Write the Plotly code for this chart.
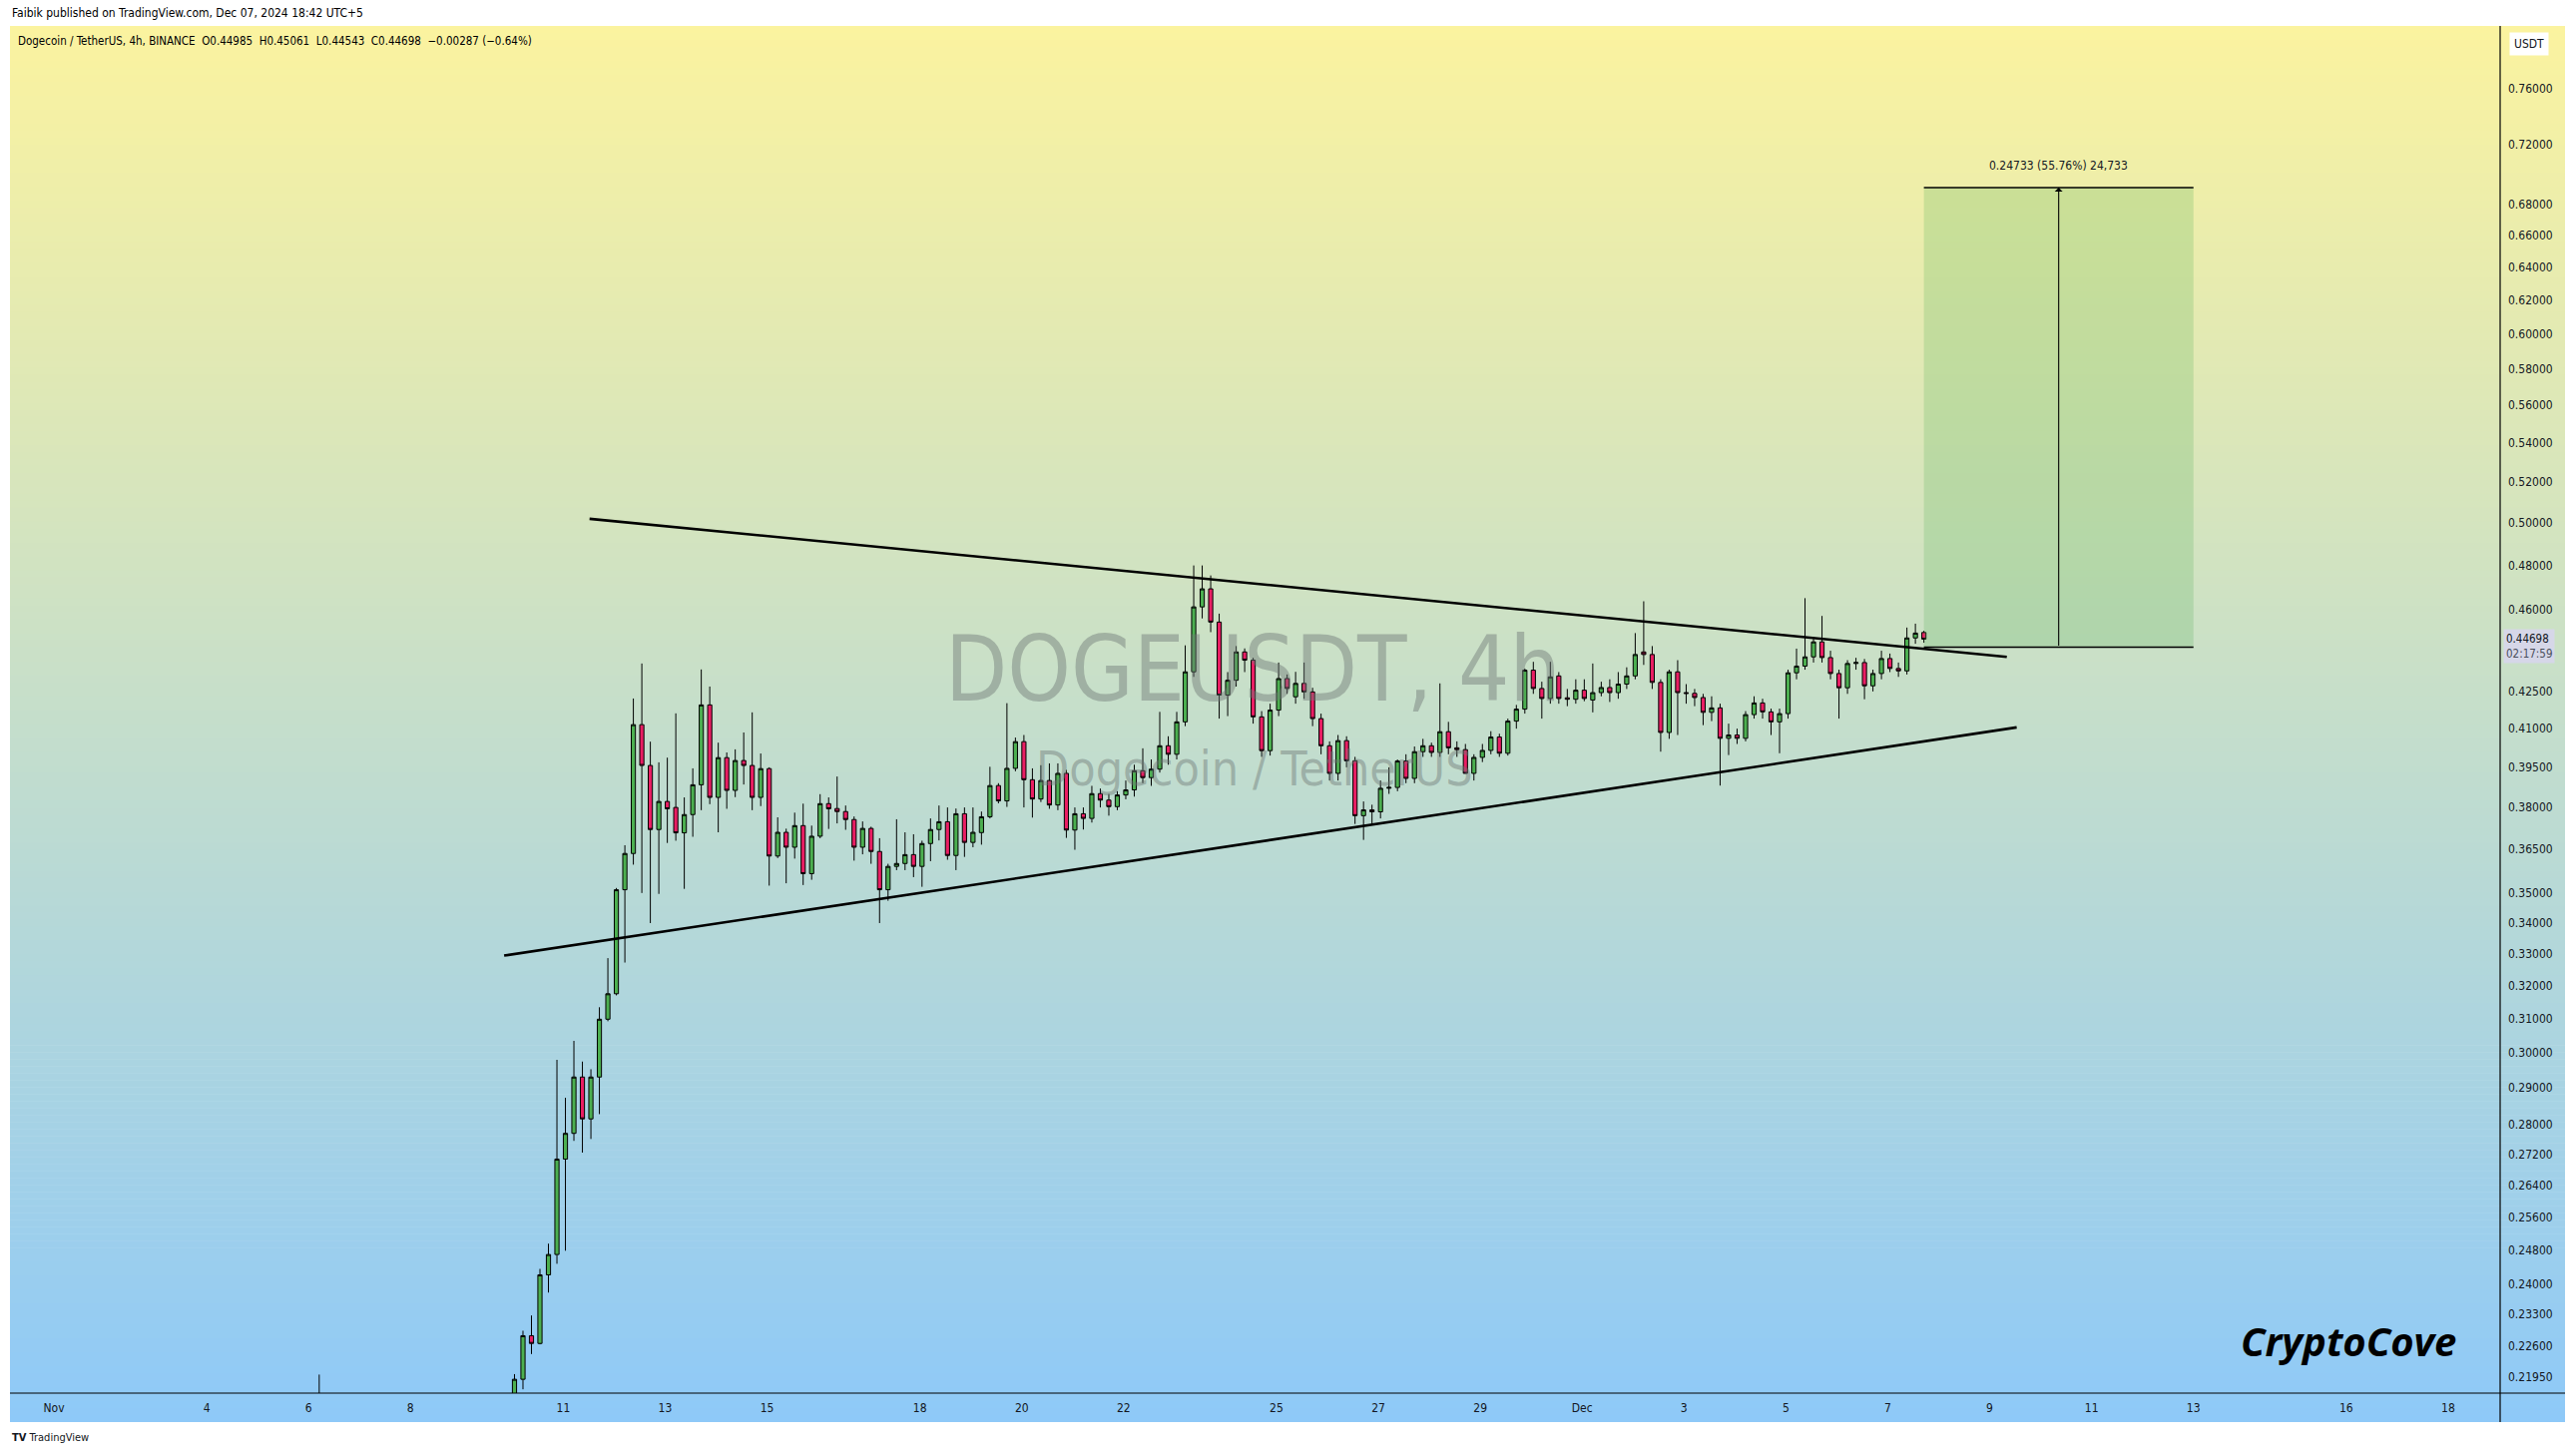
import numpy as np
import pandas as pd
import plotly.graph_objects as go

# ---------------- data ----------------
first_bar = "2024-11-10 01:00"   # 4h bars, exchange time UTC+5
opens = [0.2120,0.2189,0.2283,0.2266,0.2421,0.2469,0.2707,0.2775,0.2930,0.2814,
         0.2930,0.3098,0.3175,0.3510,0.3635,0.4116,0.3957,0.3720,0.3822,0.3800,
         0.3708,0.3774,0.3884,0.4195,0.3837,0.3987,0.3863,0.3976,0.3957,0.3837,
         0.3945,0.3626,0.3710,0.3657,0.3734,0.3565,0.3696,0.3814,0.3796,0.3785,
         0.3756,0.3657,0.3724,0.3642,0.3510,0.3590,0.3600,0.3631,0.3590,0.3670,
         0.3720,0.3748,0.3628,0.3777,0.3674,
         0.3709,0.3766,0.3881,0.3824,0.3946,0.4049,0.3903,0.3831,0.3900,0.3809,
         0.3927,0.3718,0.3777,0.3760,0.3851,0.3827,0.3803,0.3846,0.3865,0.3937,
         0.3911,0.3943,0.4033,0.4000,0.4127,0.4331,0.4611,0.4692,0.4544,0.4235,
         0.4296,0.4415,0.4380,0.4147,0.4014,0.4174,0.4303,0.4228,0.4283,0.4248,
         0.4140,0.4033,0.3927,0.4053,0.3975,0.3770,0.3791,0.3784,0.3871,0.3874,
         0.3974,0.3908,0.4010,0.4033,0.4007,0.4088,0.4025,0.4018,0.3927,0.3988,
         0.4015,0.4067,0.4004,0.4130,0.4178,0.4338,0.4262,0.4221,0.4314,0.4224,
         0.4218,0.4255,0.4215,0.4245,0.4266,0.4245,0.4280,0.4314,0.4415,0.4404,
         0.4287,0.4085,0.4331,0.4245,0.4242,0.4225,0.4165,0.4183,0.4062,0.4075,
         0.4062,0.4156,0.4203,0.4167,0.4127,0.4160,0.4327,0.4355,0.4394,0.4458,
         0.4391,0.4324,0.4265,0.4366,0.4370,0.4273,0.4324,0.4387,0.4345,0.4335,
         0.4475,0.44985]
highs = [0.2200,0.2294,0.2328,0.2435,0.2495,0.2979,0.2872,0.3034,0.2974,0.2952,
         0.3134,0.3286,0.3516,0.3664,0.4221,0.4366,0.4049,0.3969,0.3987,0.4161,
         0.3837,0.3946,0.4341,0.4270,0.4045,0.4007,0.4019,0.4085,0.4165,0.4003,
         0.3950,0.3764,0.3723,0.3781,0.3814,0.3734,0.3849,0.3837,0.3915,0.3807,
         0.3767,0.3749,0.3730,0.3689,0.3599,0.3757,0.3710,0.3703,0.3680,0.3760,
         0.3807,0.3800,0.3796,0.3800,0.3800,
         0.3785,0.3952,0.3890,0.4202,0.4065,0.4075,0.3946,0.3958,0.3965,0.3965,
         0.3940,0.3800,0.3800,0.3880,0.3870,0.3850,0.3860,0.3900,0.3960,0.4023,
         0.3980,0.4167,0.4070,0.4167,0.4443,0.4799,0.4799,0.4753,0.4581,0.4330,
         0.4440,0.4430,0.4390,0.4170,0.4200,0.4370,0.4320,0.4331,0.4370,0.4265,
         0.4160,0.4050,0.4075,0.4070,0.3990,0.3822,0.3810,0.3900,0.3950,0.3980,
         0.4000,0.4030,0.4060,0.4045,0.4283,0.4127,0.4050,0.4040,0.4000,0.4040,
         0.4090,0.4080,0.4140,0.4195,0.4345,0.4373,0.4290,0.4373,0.4330,0.4260,
         0.4300,0.4300,0.4366,0.4290,0.4300,0.4330,0.4350,0.4496,0.4636,0.4440,
         0.4300,0.4340,0.4380,0.4280,0.4260,0.4240,0.4230,0.4200,0.4120,0.4100,
         0.4170,0.4230,0.4220,0.4180,0.4180,0.4340,0.4429,0.4650,0.4480,0.4571,
         0.4420,0.4340,0.4380,0.4390,0.4385,0.4340,0.4420,0.4408,0.4370,0.4520,
         0.4537,0.45061]
lows = [0.2100,0.2168,0.2243,0.2264,0.2380,0.2447,0.2478,0.2755,0.2724,0.2760,
        0.2827,0.3092,0.3170,0.3272,0.3596,0.3499,0.3399,0.3496,0.3672,0.3680,
        0.3513,0.3694,0.3790,0.3812,0.3710,0.3795,0.3838,0.3885,0.3790,0.3805,
        0.3524,0.3619,0.3532,0.3617,0.3526,0.3544,0.3689,0.3722,0.3742,0.3719,
        0.3610,0.3632,0.3599,0.3399,0.3473,0.3577,0.3577,0.3553,0.3520,0.3608,
        0.3681,0.3613,0.3577,0.3623,0.3657,
        0.3666,0.3760,0.3815,0.3802,0.3935,0.3800,0.3763,0.3820,0.3795,0.3790,
        0.3690,0.3648,0.3720,0.3745,0.3800,0.3770,0.3790,0.3830,0.3840,0.3890,
        0.3880,0.3930,0.3960,0.3980,0.4110,0.4310,0.4560,0.4500,0.4140,0.4150,
        0.4270,0.4330,0.4120,0.3990,0.3995,0.4150,0.4240,0.4200,0.4220,0.4110,
        0.4000,0.3900,0.3900,0.3950,0.3740,0.3683,0.3740,0.3760,0.3850,0.3860,
        0.3890,0.3890,0.3990,0.3990,0.3990,0.4000,0.3990,0.3930,0.3900,0.3970,
        0.4000,0.3990,0.3995,0.4100,0.4160,0.4240,0.4140,0.4200,0.4200,0.4190,
        0.4200,0.4210,0.4165,0.4230,0.4207,0.4220,0.4260,0.4300,0.4360,0.4260,
        0.4010,0.4060,0.4075,0.4200,0.4190,0.4114,0.4130,0.3881,0.3997,0.4040,
        0.4050,0.4140,0.4140,0.4075,0.4004,0.4140,0.4300,0.4340,0.4370,0.4370,
        0.4300,0.4140,0.4240,0.4340,0.4218,0.4250,0.4300,0.4330,0.4310,0.4320,
        0.4450,0.44543]
closes = [0.2189,0.2283,0.2266,0.2421,0.2469,0.2707,0.2775,0.2930,0.2814,0.2930,
          0.3098,0.3175,0.3510,0.3635,0.4116,0.3957,0.3720,0.3822,0.3795,0.3708,
          0.3774,0.3884,0.4195,0.3837,0.3987,0.3863,0.3976,0.3957,0.3837,0.3945,
          0.3626,0.3710,0.3657,0.3734,0.3565,0.3696,0.3814,0.3795,0.3785,0.3756,
          0.3657,0.3724,0.3642,0.3510,0.3590,0.3600,0.3631,0.3590,0.3670,0.3720,
          0.3748,0.3628,0.3777,0.3674,0.3710,
          0.3766,0.3881,0.3824,0.3946,0.4049,0.3903,0.3831,0.3900,0.3809,0.3927,
          0.3718,0.3777,0.3760,0.3851,0.3827,0.3803,0.3846,0.3865,0.3937,0.3911,
          0.3943,0.4033,0.4000,0.4127,0.4331,0.4611,0.4692,0.4544,0.4235,0.4296,
          0.4415,0.4380,0.4147,0.4014,0.4174,0.4303,0.4262,0.4283,0.4248,0.4140,
          0.4033,0.3927,0.4053,0.3975,0.3770,0.3791,0.3784,0.3871,0.3874,0.3974,
          0.3908,0.4010,0.4033,0.4007,0.4088,0.4025,0.4018,0.3927,0.3988,0.4015,
          0.4067,0.4004,0.4130,0.4178,0.4338,0.4262,0.4221,0.4310,0.4221,0.4218,
          0.4255,0.4221,0.4245,0.4266,0.4245,0.4280,0.4314,0.4404,0.4404,0.4287,
          0.4085,0.4331,0.4245,0.4242,0.4225,0.4165,0.4183,0.4062,0.4075,0.4062,
          0.4156,0.4203,0.4167,0.4127,0.4160,0.4327,0.4355,0.4394,0.4458,0.4391,
          0.4324,0.4265,0.4366,0.4370,0.4273,0.4324,0.4387,0.4345,0.4335,0.4475,
          0.4496,0.44698]

# an earlier bar whose upper wick peeks above the bottom of the pane
early_time = ["2024-11-06 05:00"]
early_open, early_high, early_low, early_close = [0.1905], [0.2199], [0.1850], [0.2000]

# trend lines (time, price)
upper_line_t = ["2024-11-11 12:22", "2024-12-09 08:04"]
upper_line_p = [0.5020, 0.4394]
lower_line_t = ["2024-11-09 20:07", "2024-12-09 12:43"]
lower_line_p = [0.3294, 0.4105]

# long-position projection box
box_t = ["2024-12-07 17:00", "2024-12-13 00:00"]
box_bottom, box_top = 0.44356, 0.69089
box_label = "0.24733 (55.76%) 24,733"

ytick_vals = [0.76, 0.72, 0.68, 0.66, 0.64, 0.62, 0.60, 0.58, 0.56, 0.54, 0.52, 0.50,
              0.48, 0.46, 0.425, 0.41, 0.395, 0.38, 0.365, 0.35, 0.34, 0.33, 0.32,
              0.31, 0.30, 0.29, 0.28, 0.272, 0.264, 0.256, 0.248, 0.24, 0.233, 0.226, 0.2195]
xtick_dates = ["2024-11-01", "2024-11-04", "2024-11-06", "2024-11-08", "2024-11-11",
               "2024-11-13", "2024-11-15", "2024-11-18", "2024-11-20", "2024-11-22",
               "2024-11-25", "2024-11-27", "2024-11-29", "2024-12-01", "2024-12-03",
               "2024-12-05", "2024-12-07", "2024-12-09", "2024-12-11", "2024-12-13",
               "2024-12-16", "2024-12-18"]
xtick_text = ["Nov", "4", "6", "8", "11", "13", "15", "18", "20", "22", "25", "27", "29",
              "Dec", "3", "5", "7", "9", "11", "13", "16", "18"]

last_price_text = "0.44698"
countdown_text = "02:17:59"
header_text = "Faibik published on TradingView.com, Dec 07, 2024 18:42 UTC+5"
legend_text = ("Dogecoin / TetherUS, 4h, BINANCE&nbsp;&nbsp;O0.44985&nbsp;&nbsp;H0.45061&nbsp;&nbsp;"
               "L0.44543&nbsp;&nbsp;C0.44698&nbsp;&nbsp;−0.00287 (−0.64%)")

# ---------------- layout geometry ----------------
W, H = 2580, 1459
L, R, T, B = 10, 75, 26, 63
PW, PH = W - L - R, H - T - B
def pxx(px):
    return (px - L) / PW
def pxy(py):
    return (H - B - py) / PH

FONT = "Liberation Sans Narrow, DejaVu Sans Condensed, Liberation Sans, Arial, sans-serif"
TXT = "#131722"

times = list(pd.to_datetime(early_time)) + list(pd.date_range(first_bar, periods=len(opens), freq="4h"))

fig = go.Figure()

# background gradient (TradingView pane gradient)
top_rgb = np.array([251, 243, 159])
bot_rgb = np.array([142, 201, 248])
g_top, g_bot, g_left, g_right = 26, 1425, 10, 2570
n_bands = 200
shapes = []
for i in range(n_bands):
    y0 = g_top + (g_bot - g_top) * i / n_bands
    y1 = g_top + (g_bot - g_top) * (i + 1) / n_bands + 0.6
    f = (i + 0.5) / n_bands
    c = (1 - f) * top_rgb + f * bot_rgb
    shapes.append(dict(type="rect", xref="paper", yref="paper",
                       x0=pxx(g_left), x1=pxx(g_right), y0=pxy(min(y1, g_bot)), y1=pxy(y0),
                       fillcolor="rgb(%d,%d,%d)" % tuple(c.round()), line=dict(width=0),
                       layer="below"))
# axis border lines
shapes.append(dict(type="line", xref="paper", yref="paper", x0=pxx(g_left), x1=pxx(g_right),
                   y0=0, y1=0, line=dict(color="#000000", width=1.2), layer="above"))
shapes.append(dict(type="line", xref="paper", yref="paper", x0=1, x1=1,
                   y0=pxy(g_bot), y1=pxy(g_top), line=dict(color="#000000", width=1.2), layer="above"))

# projection box
fig.add_trace(go.Scatter(x=[box_t[0], box_t[1], box_t[1], box_t[0], box_t[0]],
                         y=[box_bottom, box_bottom, box_top, box_top, box_bottom],
                         mode="lines", fill="toself", fillcolor="rgba(76,175,80,0.22)",
                         line=dict(width=0), hoverinfo="skip", showlegend=False))
for yv in (box_bottom, box_top):
    fig.add_trace(go.Scatter(x=box_t, y=[yv, yv], mode="lines",
                             line=dict(color="#000000", width=1.5), hoverinfo="skip", showlegend=False))

# candles
fig.add_trace(go.Candlestick(
    x=times,
    open=early_open + opens, high=early_high + highs, low=early_low + lows, close=early_close + closes,
    increasing=dict(fillcolor="#4CAF50", line=dict(color="#000000", width=1)),
    decreasing=dict(fillcolor="#E91E63", line=dict(color="#000000", width=1)),
    whiskerwidth=0, showlegend=False))

# triangle lines
fig.add_trace(go.Scatter(x=upper_line_t, y=upper_line_p, mode="lines",
                         line=dict(color="#000000", width=2.6), hoverinfo="skip", showlegend=False))
fig.add_trace(go.Scatter(x=lower_line_t, y=lower_line_p, mode="lines",
                         line=dict(color="#000000", width=2.6), hoverinfo="skip", showlegend=False))

box_mid = pd.Timestamp(box_t[0]) + (pd.Timestamp(box_t[1]) - pd.Timestamp(box_t[0])) / 2

annotations = [
    dict(xref="paper", yref="paper", x=pxx(10), y=pxy(13), xanchor="left", yanchor="middle",
         text=header_text, showarrow=False, font=dict(family=FONT, size=12, color="#000000")),
    dict(xref="paper", yref="paper", x=pxx(16), y=pxy(41), xanchor="left", yanchor="middle",
         text=legend_text, showarrow=False, font=dict(family=FONT, size=11.5, color="#000000")),
    dict(xref="paper", yref="paper", x=pxx(1255), y=pxy(670), xanchor="center", yanchor="middle",
         text="DOGEUSDT, 4h", showarrow=False,
         font=dict(family=FONT, size=90, color="rgba(110,120,118,0.45)")),
    dict(xref="paper", yref="paper", x=pxx(1257), y=pxy(770), xanchor="center", yanchor="middle",
         text="Dogecoin / TetherUS", showarrow=False,
         font=dict(family=FONT, size=48, color="rgba(110,120,118,0.45)")),
    dict(xref="paper", yref="paper", x=pxx(2353), y=pxy(1343), xanchor="center", yanchor="middle",
         text="<b><i>CryptoCove</i></b>", showarrow=False,
         font=dict(family="Open Sans, Noto Sans, sans-serif", size=40, color="#000000")),
    dict(xref="paper", yref="paper", x=pxx(10), y=pxy(1441), xanchor="left", yanchor="middle",
         text="<b>TV</b> TradingView", showarrow=False, font=dict(family=FONT, size=11, color="#131722")),
    dict(xref="paper", yref="paper", x=pxx(2534), y=pxy(44), xanchor="center", yanchor="middle",
         text="USDT", showarrow=False, bgcolor="#FFFFFF", borderpad=4,
         font=dict(family=FONT, size=12, color=TXT)),
    dict(xref="paper", yref="paper", x=pxx(2508), y=pxy(647), xanchor="left", yanchor="middle",
         text=last_price_text + "<br><span style='color:#4a4f5c'>" + countdown_text + "</span>",
         showarrow=False, bgcolor="rgba(214,214,234,0.95)", borderpad=2, align="left",
         font=dict(family=FONT, size=11.5, color=TXT)),
    dict(x=box_mid, y=np.log10(box_top), xref="x", yref="y", text=box_label, showarrow=False,
         yanchor="bottom", yshift=13, font=dict(family=FONT, size=12, color=TXT)),
    dict(x=box_mid, y=np.log10(box_top), xref="x", yref="y", ax=box_mid, ay=np.log10(box_bottom),
         axref="x", ayref="y", showarrow=True, arrowhead=1, arrowsize=1.2, arrowwidth=1.1,
         arrowcolor="#000000", text=""),
]

fig.update_layout(
    template="none",
    width=W, height=H,
    margin=dict(l=L, r=R, t=T, b=B, autoexpand=False),
    paper_bgcolor="#FFFFFF",
    plot_bgcolor="rgba(0,0,0,0)",
    showlegend=False,
    shapes=shapes,
    annotations=annotations,
    xaxis=dict(type="date", range=["2024-10-31 03:19", "2024-12-19 00:29"],
               rangeslider=dict(visible=False), showgrid=False, zeroline=False, showline=False,
               tickmode="array", tickvals=xtick_dates, ticktext=xtick_text, ticks="",
               tickfont=dict(family=FONT, size=12, color=TXT), automargin=False,
               ticklabelstandoff=6),
    yaxis=dict(type="log", side="right", range=[np.log10(0.2160), np.log10(0.8075)],
               showgrid=False, zeroline=False, showline=False, tickmode="array",
               tickvals=ytick_vals, ticktext=["%.5f" % v for v in ytick_vals], ticks="",
               tickfont=dict(family=FONT, size=12, color=TXT), automargin=False,
               ticklabelstandoff=7),
)

fig.write_html("out.html", config={"displayModeBar": False},
               post_script="document.body.style.margin='0px';document.body.style.padding='0px';")
